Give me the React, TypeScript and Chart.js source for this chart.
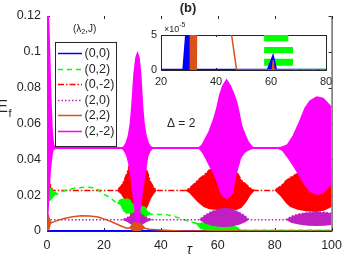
import React, { useEffect, useRef } from 'react';
import { Chart, registerables } from 'chart.js';
Chart.register(...registerables);

const FONT = "'Liberation Sans', Arial, Helvetica, sans-serif";
const AX = '#262626';

// ---------- main axes ----------
const xTicks = [0, 20, 40, 60, 80, 100];
const yTicks = [0, 0.02, 0.04, 0.06, 0.08, 0.1, 0.12];

// Series labels / styles (legend order)
const labels = ['(0,0)', '(0,2)', '(0,-2)', '(2,0)', '(2,2)', '(2,-2)'];
const colors = ['#0000FF', '#00FF00', '#FF0000', '#C020C0', '#D95319', '#FF00FF'];
const dashes: number[][] = [[], [5, 4], [6, 2, 1.5, 2], [1.5, 2], [], []];
const widths = [2, 1.5, 1.3, 1.5, 1.5, 1.5];
const greenOverOrange = 'rgba(0,255,0,0.4)';

// (0,0)
const tauB = [0, 100];
const hiB = [0, 0];
const loB = [0, 0];

// (0,2) upper / lower envelope of the fast oscillation
const tauG = [0, 0.8, 1.6, 2.6, 3.5, 6, 10, 13.8, 17, 19.3, 22.4, 24.5, 25.7, 26.8, 28, 29.2, 30.5, 32, 33, 34.5, 36.2, 38, 42.5, 47, 50.5, 52.5, 54, 57, 60, 63, 66, 67.5, 70, 100];
const hiG = [0.0245, 0.024, 0.0235, 0.022, 0.0205, 0.0225, 0.024, 0.0245, 0.024, 0.0212, 0.0184, 0.0155, 0.0172, 0.018, 0.018, 0.017, 0.015, 0.015, 0.014, 0.013, 0.0095, 0.0093, 0.009, 0.007, 0.005, 0.0045, 0.0045, 0.0042, 0.0045, 0.004, 0.003, 0.0008, 0.0004, 0.0004];
const loG = [0.016, 0.0165, 0.0175, 0.0195, 0.0205, 0.0225, 0.024, 0.0245, 0.024, 0.0212, 0.0184, 0.0155, 0.0145, 0.011, 0.0095, 0.01, 0.009, 0.008, 0.007, 0.0075, 0.0092, 0.0093, 0.009, 0.007, 0.005, 0.0038, 0.001, 0, 0, 0, 0, 0.0003, 0.0004, 0.0004];

// (0,-2)
const tauR = [0, 0.8, 1.6, 2.2, 24.5, 26, 27, 28, 29, 30.5, 31.8, 33, 34.5, 35.5, 36.5, 37.5, 38.5, 48.5, 50, 51.5, 53, 55, 57, 60, 63, 66, 68.3, 70, 71.5, 73, 80, 82, 84, 85.5, 88, 91, 94.8, 97.5, 100];
const hiR = [0.03, 0.0285, 0.024, 0.0226, 0.0226, 0.025, 0.028, 0.032, 0.037, 0.041, 0.042, 0.041, 0.036, 0.032, 0.027, 0.0245, 0.0226, 0.0226, 0.0238, 0.026, 0.0285, 0.031, 0.034, 0.036, 0.036, 0.035, 0.0285, 0.026, 0.024, 0.0226, 0.0226, 0.025, 0.028, 0.03, 0.032, 0.033, 0.034, 0.034, 0.034];
const loR = [0.017, 0.0185, 0.021, 0.0226, 0.0226, 0.0205, 0.018, 0.0138, 0.01, 0.006, 0.005, 0.006, 0.011, 0.014, 0.018, 0.0205, 0.0226, 0.0226, 0.0212, 0.0185, 0.016, 0.0134, 0.0122, 0.0117, 0.0106, 0.0115, 0.0128, 0.016, 0.02, 0.0226, 0.0226, 0.0195, 0.0155, 0.0134, 0.0118, 0.011, 0.0106, 0.0115, 0.0134];

// (2,0)
const tauP = [0, 26.3, 28, 29.5, 30.7, 31.6, 32.5, 33.7, 35.2, 37.2, 53.5, 55.5, 58, 60.5, 62.5, 65, 67.5, 69.5, 71, 83.8, 86, 88.5, 91.5, 94.8, 97.5, 100];
const hiP = [0.0063, 0.0063, 0.0072, 0.0088, 0.0105, 0.012, 0.0105, 0.0088, 0.0072, 0.0063, 0.0063, 0.0088, 0.011, 0.0123, 0.0128, 0.0123, 0.0105, 0.0085, 0.0063, 0.0063, 0.0083, 0.0095, 0.0103, 0.0106, 0.0104, 0.0099];
const loP = [0.0063, 0.0063, 0.0052, 0.0038, 0.0022, 0.0012, 0.0022, 0.0038, 0.0052, 0.0063, 0.0063, 0.0042, 0.003, 0.0024, 0.0022, 0.0025, 0.0035, 0.0048, 0.0063, 0.0063, 0.0045, 0.0036, 0.003, 0.0028, 0.003, 0.0034];

// (2,2)
const tauO = [0, 0.4, 0.9, 1.5, 3, 6, 9, 12, 15, 18, 21, 23.5, 26, 28, 29.2, 30.2, 31.5, 32.8, 34.4, 36, 40, 45, 48, 100];
const hiO = [0.0095, 0.009, 0.006, 0.0045, 0.0055, 0.007, 0.008, 0.0085, 0.0084, 0.0078, 0.0062, 0.0046, 0.0028, 0.0016, 0.0018, 0.0042, 0.0053, 0.0042, 0.0015, 0.001, 0.0006, 0.0002, 0, 0];
const loO = [0, 0, 0.001, 0.0045, 0.0055, 0.007, 0.008, 0.0085, 0.0084, 0.0078, 0.0062, 0.0046, 0.0028, 0.0016, 0.0012, 0, 0, 0, 0.0012, 0.001, 0.0006, 0.0002, 0, 0];

// (2,-2)
const tauM = [0, 0.5, 0.9, 1.3, 1.8, 2.3, 3, 26.3, 27.0, 27.8, 28.6, 29.3, 29.8, 30.6, 31.3, 31.8, 32.3, 32.9, 33.6, 34.1, 34.8, 35.6, 36.4, 37.2, 53.4, 54.5, 55.5, 57, 58.6, 59.7, 60.7, 61.8, 63.1, 64.4, 65.5, 66.6, 67.4, 68.3, 69.5, 70.7, 72.4, 81, 82.5, 84.5, 86.5, 88.3, 90.7, 92.4, 94.8, 97, 100];
const hiM = [0.12, 0.12, 0.1, 0.075, 0.055, 0.048, 0.0464, 0.0464, 0.047, 0.049, 0.053, 0.06, 0.069, 0.088, 0.097, 0.0992, 0.097, 0.088, 0.069, 0.06, 0.053, 0.049, 0.047, 0.0464, 0.0464, 0.048, 0.051, 0.0555, 0.0625, 0.0686, 0.076, 0.081, 0.0843, 0.081, 0.077, 0.072, 0.0665, 0.0592, 0.054, 0.0497, 0.0464, 0.0464, 0.0468, 0.048, 0.053, 0.0592, 0.0686, 0.0725, 0.0748, 0.074, 0.069];
const loM = [0.003, 0.008, 0.02, 0.032, 0.04, 0.045, 0.0458, 0.0458, 0.0445, 0.042, 0.037, 0.03, 0.023, 0.013, 0.005, 0.004, 0.005, 0.012, 0.02, 0.026, 0.033, 0.0415, 0.0445, 0.0458, 0.0458, 0.0435, 0.0407, 0.036, 0.0313, 0.027, 0.0218, 0.019, 0.0179, 0.019, 0.0218, 0.0313, 0.036, 0.0407, 0.0435, 0.0448, 0.0458, 0.0458, 0.045, 0.0407, 0.036, 0.0313, 0.025, 0.0218, 0.0201, 0.021, 0.0257];

// ---------- inset ----------
const insetXTicks = [20, 40, 60, 80];
const insetYTicks = [0, 5e-5];
const insetTauB = [20, 28.2, 29.4, 31, 31.3, 47, 58.9, 60.7, 61.8, 80];
const insetHiB = [0, 0, 6e-5, 6e-5, 0, 0, 0, 1.86e-5, 0, 0];
const insetLoB = [0, 0, 0, 0, 0, 0, 0, 0, 0, 0];
const insetTauO = [20, 30.4, 30.5, 33.1, 33.2, 45.3, 47.5, 60.5, 60.8, 61.1, 80];
const insetHiO = [8e-5, 8e-5, 8e-5, 8e-5, 8e-5, 6e-5, 0, 0, 1.4e-5, 0, 0];
const insetLoO = [8e-5, 8e-5, 0, 0, 8e-5, 6e-5, 0, 0, 0, 0, 0];
const insetGreenStart = [57.5, 57.5, 57.5];
const insetGreenEnd = [66.3, 68, 68];
const insetGreenLow = [4.1e-5, 2.4e-5, 0.6e-5];
const insetGreenHigh = [5.2e-5, 3.3e-5, 1.6e-5];
const insetGreenTailTau = [68, 80];
const insetGreenTail = [0.1e-5, 0.1e-5];

type Ser = { label: string; color: string; width: number; dash: number[]; tau: number[]; hi: number[]; lo: number[]; order: number };

// Each series: stroked upper line + filled envelope polygon (upper forward, lower back)
function pair(s: Ser) {
  const upper = s.tau.map((t, i) => ({ x: t, y: s.hi[i] }));
  const lowerBack = s.tau.map((t, i) => ({ x: t, y: s.lo[i] })).reverse();
  const out: any[] = [];
  if (s.width > 0) {
    out.push({
      label: s.label,
      data: upper,
      borderColor: s.color,
      backgroundColor: s.color,
      borderWidth: s.width,
      borderDash: s.dash,
      fill: false,
      pointRadius: 0,
      tension: 0,
      order: s.order,
    });
  }
  out.push({
    label: s.label + ' envelope',
    data: [...upper, ...lowerBack],
    borderColor: s.color,
    backgroundColor: s.color,
    borderWidth: 0,
    fill: 'shape',
    pointRadius: 0,
    tension: 0,
    order: s.order,
  });
  return out;
}

function dashedTail(tau: number[], vals: number[], order: number) {
  return {
    label: 'tail',
    data: tau.map((t, i) => ({ x: t, y: vals[i] })),
    borderColor: greenOverOrange,
    borderWidth: 1.5,
    borderDash: dashes[1],
    fill: false,
    pointRadius: 0,
    tension: 0,
    order,
  };
}

const mainSeries: Ser[] = [
  { label: labels[5], color: colors[5], width: widths[5], dash: dashes[5], tau: tauM, hi: hiM, lo: loM, order: 0 },
  { label: labels[4], color: colors[4], width: widths[4], dash: dashes[4], tau: tauO, hi: hiO, lo: loO, order: 1 },
  { label: labels[3], color: colors[3], width: widths[3], dash: dashes[3], tau: tauP, hi: hiP, lo: loP, order: 2 },
  { label: labels[1], color: colors[1], width: widths[1], dash: dashes[1], tau: tauG, hi: hiG, lo: loG, order: 3 },
  { label: labels[2], color: colors[2], width: widths[2], dash: dashes[2], tau: tauR, hi: hiR, lo: loR, order: 4 },
  { label: labels[0], color: colors[0], width: widths[0], dash: dashes[0], tau: tauB, hi: hiB, lo: loB, order: 5 },
];

const fmtY = (v: number) => {
  const n = Math.round(v * 100) / 100;
  return n === 0 ? '0' : String(n);
};

const mainDecor = {
  id: 'mainDecor',
  beforeDatasetsDraw(chart: any) {
    const { ctx, chartArea: a, scales } = chart;
    ctx.save();
    ctx.strokeStyle = AX;
    ctx.lineWidth = 1;
    ctx.beginPath();
    ctx.moveTo(a.left + 0.5, a.top);
    ctx.lineTo(a.left + 0.5, a.bottom + 0.5);
    ctx.lineTo(a.right + 0.5, a.bottom + 0.5);
    ctx.lineTo(a.right + 0.5, a.top);
    xTicks.forEach((v) => {
      const x = Math.round(scales.x.getPixelForValue(v)) + 0.5;
      ctx.moveTo(x, a.bottom);
      ctx.lineTo(x, a.bottom - 3);
      ctx.moveTo(x, a.top);
      ctx.lineTo(x, a.top + 3);
    });
    yTicks.forEach((v) => {
      const y = Math.round(scales.y.getPixelForValue(v)) + 0.5;
      ctx.moveTo(a.left, y);
      ctx.lineTo(a.left + 3, y);
      ctx.moveTo(a.right, y);
      ctx.lineTo(a.right - 3, y);
    });
    ctx.stroke();
    ctx.restore();
  },
  afterDatasetsDraw(chart: any) {
    const { ctx, chartArea: a, scales } = chart;
    ctx.save();
    // legend box
    const bx = 55.5, by = 42.5, bw = 61, bh = 104;
    ctx.fillStyle = '#fff';
    ctx.fillRect(bx, by, bw, bh);
    ctx.strokeStyle = AX;
    ctx.lineWidth = 1;
    ctx.strokeRect(bx, by, bw, bh);
    ctx.font = `12.5px ${FONT}`;
    ctx.textBaseline = 'middle';
    ctx.textAlign = 'left';
    labels.forEach((lab, i) => {
      const y = Math.round(53 + i * 15.5) + 0.5;
      ctx.strokeStyle = colors[i];
      ctx.lineWidth = 1.5;
      ctx.setLineDash(dashes[i]);
      ctx.beginPath();
      ctx.moveTo(58, y);
      ctx.lineTo(82, y);
      ctx.stroke();
      ctx.setLineDash([]);
      ctx.fillStyle = AX;
      ctx.fillText(lab, 84.5, y);
    });
    // legend title (λ2,J)
    ctx.fillStyle = AX;
    ctx.font = `10px ${FONT}`;
    let tx = 73;
    ctx.fillText('(λ', tx, 29);
    tx += ctx.measureText('(λ').width;
    ctx.font = `7px ${FONT}`;
    ctx.fillText('2', tx, 32);
    tx += ctx.measureText('2').width;
    ctx.font = `10px ${FONT}`;
    ctx.fillText(',J)', tx, 29);

    // Δ = 2
    ctx.font = `12px ${FONT}`;
    ctx.fillText('Δ = 2', 167, 124);

    // (b)
    ctx.font = `bold 13px ${FONT}`;
    ctx.textAlign = 'center';
    ctx.fillText('(b)', 188, 8);

    // τ axis label
    ctx.font = `italic 14px ${FONT}`;
    ctx.fillText('τ', scales.x.getPixelForValue(50), a.bottom + 19);

    // E_f label
    ctx.textBaseline = 'alphabetic';
    ctx.textAlign = 'right';
    ctx.font = `16px ${FONT}`;
    ctx.fillText('E', 8, 112);
    ctx.textAlign = 'left';
    ctx.font = `11px ${FONT}`;
    ctx.fillText('f', 8.5, 117);
    ctx.restore();
  },
};

const insetDecor = {
  id: 'insetDecor',
  beforeDatasetsDraw(chart: any) {
    const { ctx, chartArea: a, scales } = chart;
    ctx.save();
    ctx.fillStyle = '#fff';
    ctx.fillRect(a.left, a.top, a.right - a.left, a.bottom - a.top);
    ctx.strokeStyle = AX;
    ctx.lineWidth = 1;
    ctx.strokeRect(a.left + 0.5, a.top + 0.5, a.right - a.left, a.bottom - a.top);
    ctx.beginPath();
    insetXTicks.forEach((v) => {
      const x = Math.round(scales.x.getPixelForValue(v)) + 0.5;
      ctx.moveTo(x, a.bottom);
      ctx.lineTo(x, a.bottom - 2);
      ctx.moveTo(x, a.top);
      ctx.lineTo(x, a.top + 2);
    });
    ctx.stroke();
    ctx.restore();
  },
  afterDraw(chart: any) {
    const { ctx, chartArea: a } = chart;
    ctx.save();
    ctx.fillStyle = AX;
    ctx.textBaseline = 'alphabetic';
    ctx.textAlign = 'left';
    ctx.font = `9px ${FONT}`;
    const x0 = a.left + 3;
    ctx.fillText('×10', x0, a.top - 3);
    const w = ctx.measureText('×10').width;
    ctx.font = `7px ${FONT}`;
    ctx.fillText('-5', x0 + w, a.top - 8);
    ctx.restore();
  },
};

export default function App() {
  const mainRef = useRef<HTMLCanvasElement>(null);
  const insetRef = useRef<HTMLCanvasElement>(null);

  useEffect(() => {
    const datasets: any[] = [];
    mainSeries.forEach((s) => datasets.push(...pair(s)));
    // (0,2) dashes running along the (2,2) line near zero at late times
    const tailIdx = tauG.map((t, i) => i).filter((i) => tauG[i] >= 67.5);
    datasets.push(dashedTail(tailIdx.map((i) => tauG[i]), tailIdx.map((i) => hiG[i]), 0.5));

    const main = new Chart(mainRef.current!, {
      type: 'line',
      data: { datasets },
      options: {
        animation: false,
        responsive: false,
        devicePixelRatio: 1,
        events: [],
        layout: { padding: { top: 16, right: 13, left: 0, bottom: 0 } },
        plugins: { legend: { display: false }, tooltip: { enabled: false }, title: { display: false } },
        scales: {
          x: {
            type: 'linear',
            min: 0,
            max: 100,
            afterBuildTicks: (s: any) => { s.ticks = xTicks.map((v) => ({ value: v })); },
            afterFit: (s: any) => { s.height = 30; },
            grid: { display: false, drawTicks: false },
            border: { display: false },
            ticks: { padding: 7, color: AX, font: { family: FONT, size: 12.5 }, maxRotation: 0, autoSkip: false },
          },
          y: {
            type: 'linear',
            min: 0,
            max: 0.12,
            afterBuildTicks: (s: any) => { s.ticks = yTicks.map((v) => ({ value: v })); },
            afterFit: (s: any) => { s.width = 47; },
            grid: { display: false, drawTicks: false },
            border: { display: false },
            ticks: { padding: 6, color: AX, font: { family: FONT, size: 12.5 }, callback: (v: any) => fmtY(Number(v)) },
          },
        },
      } as any,
      plugins: [mainDecor],
    });

    const insetSeries: Ser[] = [
      { label: 'o', color: colors[4], width: 1.5, dash: [], tau: insetTauO, hi: insetHiO, lo: insetLoO, order: 0 },
      { label: 'b', color: colors[0], width: 2.5, dash: [], tau: insetTauB, hi: insetHiB, lo: insetLoB, order: 1 },
    ];
    const ids: any[] = [];
    insetSeries.forEach((s) => ids.push(...pair(s)));
    insetGreenStart.forEach((st, i) => {
      ids.push(
        ...pair({
          label: 'g' + i,
          color: colors[1],
          width: 0,
          dash: [],
          tau: [st, insetGreenEnd[i]],
          hi: [insetGreenHigh[i], insetGreenHigh[i]],
          lo: [insetGreenLow[i], insetGreenLow[i]],
          order: 2,
        })
      );
    });
    ids.push(dashedTail(insetGreenTailTau, insetGreenTail, -1));
    const inset = new Chart(insetRef.current!, {
      type: 'line',
      data: { datasets: ids },
      options: {
        animation: false,
        responsive: false,
        devicePixelRatio: 1,
        events: [],
        layout: { padding: { top: 17, right: 19, left: 0, bottom: 0 } },
        plugins: { legend: { display: false }, tooltip: { enabled: false } },
        scales: {
          x: {
            type: 'linear',
            min: 20,
            max: 80,
            afterBuildTicks: (s: any) => { s.ticks = insetXTicks.map((v) => ({ value: v })); },
            afterFit: (s: any) => { s.height = 22; },
            grid: { display: false, drawTicks: false },
            border: { display: false },
            ticks: { padding: 5, color: AX, font: { family: FONT, size: 11 }, maxRotation: 0, autoSkip: false },
          },
          y: {
            type: 'linear',
            min: 0,
            max: 5e-5,
            afterBuildTicks: (s: any) => { s.ticks = insetYTicks.map((v) => ({ value: v })); },
            afterFit: (s: any) => { s.width = 31; },
            grid: { display: false, drawTicks: false },
            border: { display: false },
            ticks: { padding: 4, color: AX, font: { family: FONT, size: 11 }, callback: (v: any) => String(Math.round(Number(v) * 1e5)) },
          },
        },
      } as any,
      plugins: [insetDecor],
    });
    return () => {
      main.destroy();
      inset.destroy();
    };
  }, []);

  return (
    <div style={{ position: 'absolute', left: 0, top: 0, width: 349, height: 261, background: '#fff' }}>
      <canvas ref={mainRef} width={349} height={261} style={{ position: 'absolute', left: 0, top: 0, width: 349, height: 261 }} />
      <canvas ref={insetRef} width={215} height={74} style={{ position: 'absolute', left: 130, top: 18, width: 215, height: 74 }} />
    </div>
  );
}
